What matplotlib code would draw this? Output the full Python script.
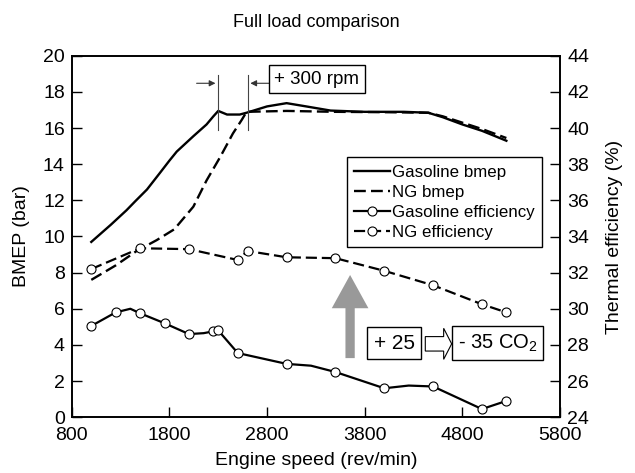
import matplotlib
matplotlib.use('Agg')
import matplotlib.pyplot as plt
from matplotlib.patches import FancyArrow

plt.rcParams['font.family'] = ['Liberation Sans', 'DejaVu Sans']
plt.rcParams['mathtext.fontset'] = 'custom'
plt.rcParams['mathtext.rm'] = 'Liberation Sans'

# full load BMEP curves (bar)
gas_bmep_rpm = [1000, 1200, 1360, 1450, 1570, 1700, 1800, 1875, 2045, 2180, 2250, 2300, 2390,
                2520, 2590, 2800, 3000, 3200, 3450, 3800, 4200, 4450, 4600, 4800, 5000, 5250]
gas_bmep = [9.7, 10.65, 11.45, 11.95, 12.6, 13.5, 14.2, 14.7, 15.55, 16.2, 16.65, 16.95, 16.75,
            16.75, 16.85, 17.2, 17.38, 17.2, 16.97, 16.9, 16.9, 16.85, 16.6, 16.2, 15.85, 15.3]

ng_bmep_rpm = [1000, 1250, 1465, 1670, 1850, 2045, 2180, 2320, 2450, 2540, 2590,
               3000, 3500, 4000, 4450, 4600, 4800, 5000, 5250]
ng_bmep = [7.6, 8.4, 9.2, 9.8, 10.4, 11.65, 13.1, 14.4, 15.7, 16.45, 16.9,
           16.95, 16.9, 16.88, 16.85, 16.65, 16.3, 15.95, 15.45]

# thermal efficiency (%) - measured points
gas_eff_rpm = [1000, 1250, 1500, 1750, 2000, 2250, 2300, 2500, 3000, 3500, 4000, 4500, 5000, 5250]
gas_eff = [29.05, 29.8, 29.75, 29.2, 28.6, 28.75, 28.8, 27.55, 26.95, 26.5, 25.6, 25.7, 24.45, 24.9]

ng_eff_rpm = [1000, 1500, 2000, 2500, 2600, 3000, 3500, 4000, 4500, 5000, 5250]
ng_eff = [32.2, 33.35, 33.3, 32.7, 33.2, 32.85, 32.8, 32.1, 31.3, 30.25, 29.8]

# fitted curve through the gasoline efficiency points
gas_eff_line_rpm = [1000, 1250, 1400, 1500, 1750, 2000, 2150, 2250, 2300, 2500, 3000, 3250,
                    3500, 4000, 4250, 4500, 5000, 5250]
gas_eff_line = [29.05, 29.8, 30.0, 29.75, 29.2, 28.6, 28.65, 28.75, 28.8, 27.55, 26.95, 26.85,
                26.5, 25.6, 25.75, 25.7, 24.45, 24.9]

fig = plt.figure(figsize=(6.35, 4.73), dpi=100)
ax = fig.add_axes([0.113, 0.118, 0.769, 0.764])
ax2 = ax.twinx()

dash = (0, (5.0, 2.2))
l1, = ax.plot(gas_bmep_rpm, gas_bmep, color='k', lw=1.7, label='Gasoline bmep')
l2, = ax.plot(ng_bmep_rpm, ng_bmep, color='k', lw=1.7, ls=dash, label='NG bmep')

ax2.plot(gas_eff_line_rpm, gas_eff_line, color='k', lw=1.6)
ax2.plot(gas_eff_rpm, gas_eff, ls='none', marker='o', ms=6.5, mfc='white', mec='k', mew=0.8)
ax2.plot(ng_eff_rpm, ng_eff, color='k', lw=1.6, ls=dash)
ax2.plot(ng_eff_rpm, ng_eff, ls='none', marker='o', ms=6.5, mfc='white', mec='k', mew=0.8)

# legend handles
h3, = ax2.plot([], [], color='k', lw=1.6, marker='o', ms=6.5, mfc='white', mec='k', mew=0.8,
               label='Gasoline efficiency')
h4, = ax2.plot([], [], color='k', lw=1.6, ls=dash, marker='o', ms=6.5, mfc='white', mec='k',
               mew=0.8, label='NG efficiency')
leg = ax2.legend(handles=[l1, l2, h3, h4], loc='upper left', bbox_to_anchor=(0.563, 0.72),
                 borderaxespad=0, fontsize=12.2, fancybox=False, framealpha=1,
                 handlelength=2.1, handletextpad=0.1, labelspacing=0.3, borderpad=0.45)
leg.get_frame().set_edgecolor('k')
leg.get_frame().set_linewidth(1.0)

ax.set_xlim(800, 5800)
ax.set_ylim(0, 20)
ax2.set_ylim(24, 44)
ax.set_xticks(range(800, 5801, 1000))
ax.set_yticks(range(0, 21, 2))
ax2.set_yticks(range(24, 45, 2))
for a in (ax, ax2):
    a.tick_params(direction='in', length=7, width=1, labelsize=14, pad=5)
    for s in a.spines.values():
        s.set_linewidth(1.2)
ax.tick_params(axis='x', pad=7)

ax.set_xlabel('Engine speed (rev/min)', fontsize=14, labelpad=6)
ax.set_ylabel('BMEP (bar)', fontsize=14, labelpad=9)
ax2.set_ylabel('Thermal efficiency (%)', fontsize=14, labelpad=12)
ax.set_title('Full load comparison', fontsize=13, pad=21)

# +300 rpm shift of the torque peak
for x in (2300, 2600):
    ax.plot([x, x], [15.9, 18.95], color='#444444', lw=0.8)
ax.annotate('', xy=(2300, 18.48), xytext=(2050, 18.48),
            arrowprops=dict(arrowstyle='-|>', color='#333333', lw=0.8, mutation_scale=9))
ax.annotate('', xy=(2600, 18.48), xytext=(2870, 18.48),
            arrowprops=dict(arrowstyle='-|>', color='#333333', lw=0.8, mutation_scale=9))
ax.text(3310, 18.7, '+ 300 rpm', fontsize=13.5, ha='center', va='center',
        bbox=dict(boxstyle='square,pad=0.3', fc='white', ec='k', lw=1))

# efficiency gain arrow
ax.add_patch(FancyArrow(3650, 3.27, 0, 4.6, width=95, head_width=375, head_length=1.84,
                        length_includes_head=True, color='#999999', lw=0))
ax.text(4100, 4.1, '+ 25', fontsize=15, ha='center', va='center',
        bbox=dict(boxstyle='square,pad=0.3', fc='white', ec='k', lw=1))
ax.add_patch(FancyArrow(4420, 4.06, 270, 0, width=0.8, head_width=1.72, head_length=82,
                        length_includes_head=True, fc='white', ec='k', lw=0.8))
ax.text(5160, 4.1, '- 35 CO$_\\mathregular{2}$', fontsize=14.5, ha='center', va='center',
        bbox=dict(boxstyle='square,pad=0.3', fc='white', ec='k', lw=1))

fig.savefig('out.png', dpi=100)
